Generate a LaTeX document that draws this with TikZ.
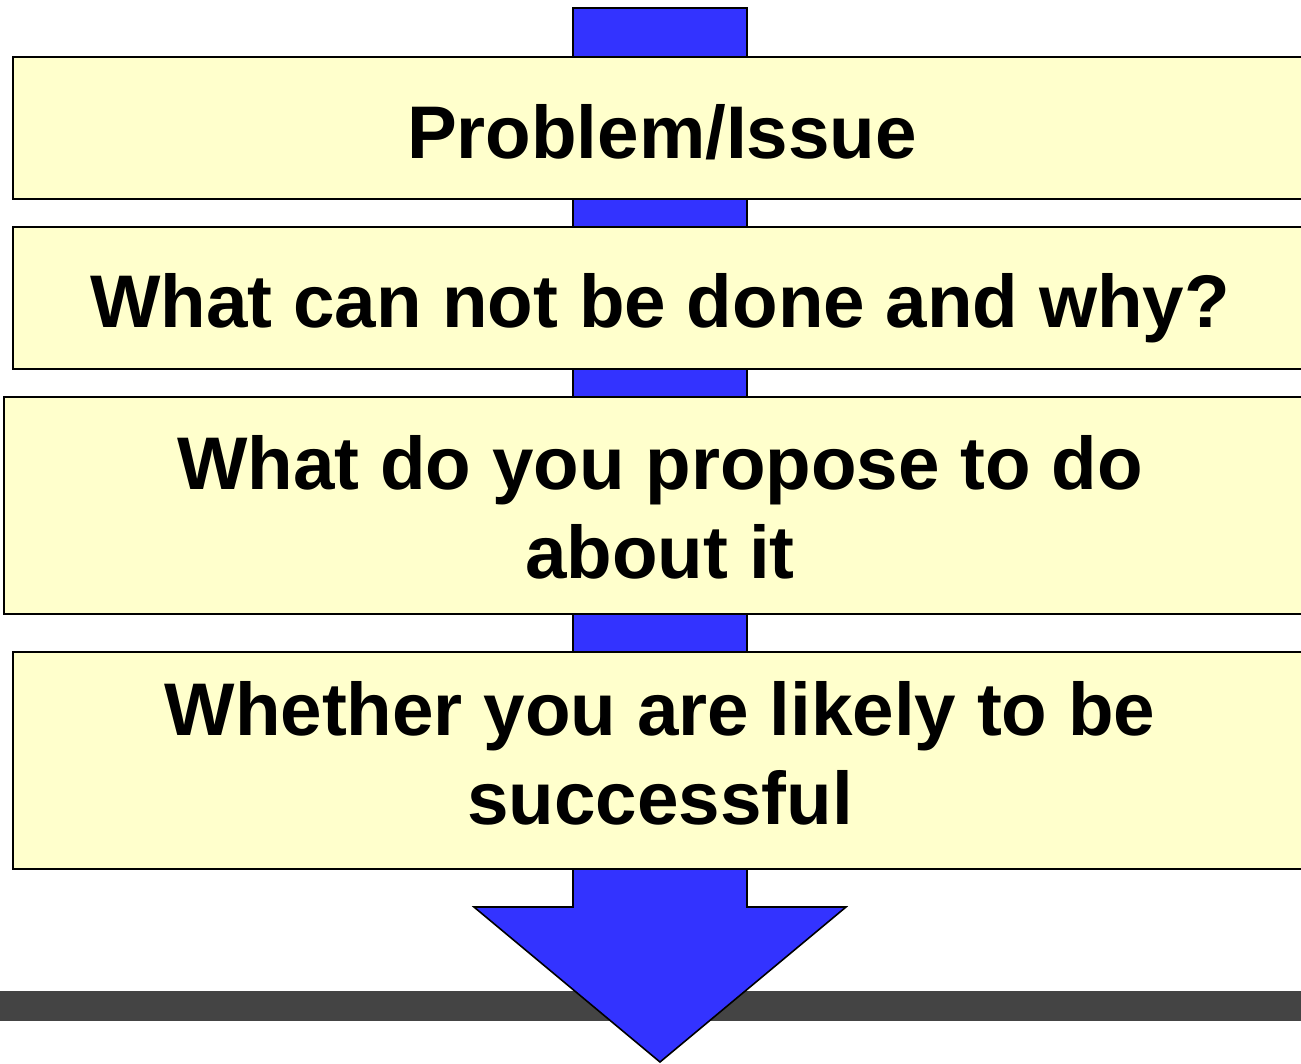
\documentclass[tikz,border=0pt]{standalone}
\usepackage{fontspec}
\setmainfont{Liberation Sans}
\definecolor{boxyellow}{HTML}{FFFFCC}
\definecolor{arrowblue}{HTML}{3333FF}
\definecolor{bargray}{HTML}{444444}

\begin{document}
\begin{tikzpicture}[x=1pt,y=-1pt,
  stepbox/.style={draw=black,line width=1.6pt,fill=boxyellow,minimum width=1296pt,inner sep=0pt,anchor=north west},
  steptext/.style={font=\fontsize{74.6}{89}\selectfont\bfseries,align=center,anchor=base,inner sep=0pt}]

\useasboundingbox (0,0) rectangle (1301,1064);

% bottom bar
\fill[bargray] (0,991) rectangle (1301,1021);

% the big arrow behind the boxes
\draw[line width=1.6pt,fill=arrowblue,line join=miter]
  (573,8) -- (747,8) -- (747,907) -- (846,907) -- (660,1062) -- (474,907) -- (573,907) -- cycle;

% the steps
\node[stepbox,minimum height=142pt] (problem) at (12,56) {};
\node[stepbox,minimum height=142pt] (cannot) at (12,226) {};
\node[stepbox,minimum height=217pt,minimum width=1314pt] (propose) at (3,396) {};
\node[stepbox,minimum height=217pt] (success) at (12,651) {};

% texts (base = last line)
\node[steptext] (problemtext) at (662,159) {Problem/Issue};
\node[steptext] (cannottext) at (660,328) {What can not be done and why?};
\node[steptext] (proposetext) at (660,578) {What do you propose to do\\about it};
\node[steptext] (successtext) at (660,824) {Whether you are likely to be\\successful};

\end{tikzpicture}
\end{document}
